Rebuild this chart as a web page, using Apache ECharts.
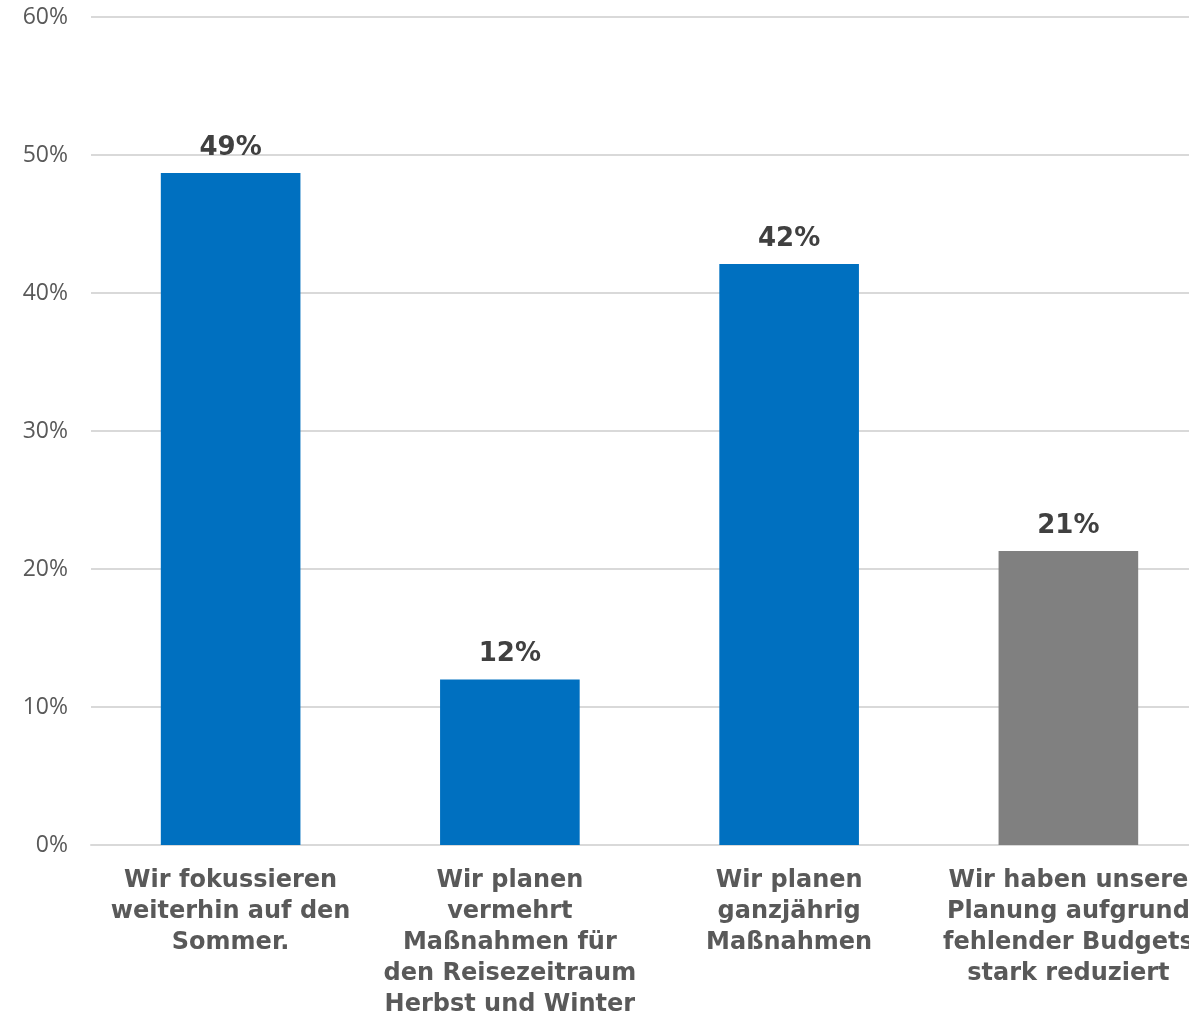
<!DOCTYPE html>
<html><head><meta charset="utf-8">
<script src="https://cdn.jsdelivr.net/npm/echarts@6/dist/echarts.min.js"></script>
<style>html,body{margin:0;padding:0;background:#fff;overflow:hidden;width:1189px;height:1020px;}#c{width:1208px;height:1020px;}</style>
</head><body><div id="c"></div>
<script>
const categories = [
  "Wir fokussieren\nweiterhin auf den\nSommer.",
  "Wir planen\nvermehrt\nMaßnahmen für\nden Reisezeitraum\nHerbst und Winter",
  "Wir planen\nganzjährig\nMaßnahmen",
  "Wir haben unsere\nPlanung aufgrund\nfehlender Budgets\nstark reduziert"
];
const values = [48.7, 12.0, 42.1, 21.3];
const valueLabels = ["49%", "12%", "42%", "21%"];
const barColors = ["#0070C0", "#0070C0", "#0070C0", "#808080"];
const yTicks = [0, 10, 20, 30, 40, 50, 60];

const chart = echarts.init(document.getElementById('c'));
chart.setOption({
  animation: false,
  grid: { left: 91, right: 0, top: 17, bottom: 167, containLabel: false },
  xAxis: {
    type: 'category', data: categories,
    axisTick: { show: false },
    axisLine: { lineStyle: { color: '#D9D9D9', width: 2 } },
    axisLabel: { interval: 0, margin: 20, color: '#595959', fontFamily: 'DejaVu Sans', fontWeight: 'bold', fontSize: 24, lineHeight: 31 }
  },
  yAxis: {
    type: 'value', min: yTicks[0], max: yTicks[yTicks.length - 1], interval: 10,
    axisLine: { show: false }, axisTick: { show: false },
    splitLine: { lineStyle: { color: '#D9D9D9', width: 2 } },
    axisLabel: { formatter: v => v + '%', margin: 23, color: '#595959', fontFamily: 'Open Sans', fontSize: 23 }
  },
  series: [{
    type: 'bar', barWidth: '50%',
    data: values.map((v, i) => ({ value: v, itemStyle: { color: barColors[i] } })),
    label: {
      show: true, position: 'top', distance: 12,
      formatter: p => valueLabels[p.dataIndex],
      color: '#404040', fontFamily: 'DejaVu Sans', fontWeight: 'bold', fontSize: 26
    }
  }]
});
</script></body></html>
